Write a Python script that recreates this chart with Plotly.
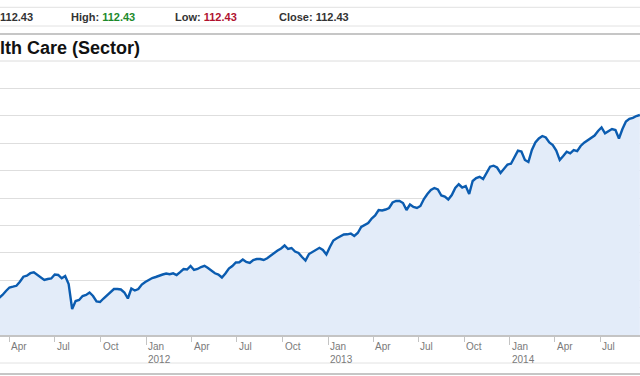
import pandas as pd
import plotly.graph_objects as go

# ---------------- data ----------------
week_start = "2011-03-11"
values = [
    75.83, 76.43, 77.23, 77.93, 78.09, 78.27, 79.07, 80.09, 80.29, 80.79,
    80.97, 80.43, 79.83, 79.43, 79.63, 79.73, 80.53, 80.43, 79.77, 80.23,
    78.63, 73.63, 75.23, 75.43, 76.23, 76.43, 76.93, 76.23, 75.13, 75.03,
    75.73, 76.43, 77.03, 77.63, 77.63, 77.53, 76.93, 75.73, 77.73, 77.33,
    77.63, 78.53, 79.03, 79.43, 79.83, 80.03, 80.33, 80.53, 80.73, 80.59,
    80.77, 80.43, 80.99, 81.63, 81.53, 82.23, 81.43, 81.63, 82.03, 82.27,
    81.83, 81.23, 80.77, 80.53, 79.93, 80.73, 81.73, 82.23, 82.93, 82.97,
    83.53, 83.03, 82.83, 83.43, 83.63, 83.63, 83.43, 83.79, 84.33, 84.89,
    85.33, 85.73, 86.33, 85.63, 85.83, 85.13, 84.83, 84.03, 83.33, 84.63,
    85.03, 85.37, 85.87, 85.43, 84.53, 86.03, 87.33, 87.77, 88.23, 88.53,
    88.57, 88.73, 88.23, 88.83, 90.03, 90.49, 90.83, 91.73, 92.33, 93.43,
    93.33, 93.53, 93.83, 94.93, 95.23, 95.23, 94.83, 93.43, 94.53, 94.03,
    93.83, 94.23, 95.63, 96.63, 97.43, 97.83, 97.53, 96.33, 96.13, 95.53,
    96.43, 97.83, 98.57, 97.93, 98.23, 96.63, 99.23, 99.83, 100.07, 99.63,
    100.83, 102.09, 102.29, 101.93, 100.83, 101.73, 102.53, 102.69, 104.13, 105.29,
    105.13, 103.43, 103.03, 105.43, 106.93, 107.73, 108.23, 107.93, 106.93, 106.43,
    105.33, 103.43, 104.23, 105.09, 104.77, 105.39, 105.19, 106.23, 106.89, 107.33,
    107.73, 108.33, 109.23, 109.93, 108.77, 109.23, 109.63, 109.43, 107.73, 109.63,
    111.13, 111.67, 111.87, 112.23, 112.43,
]
dates = pd.date_range(week_start, periods=len(values), freq="7D")

tick_dates = ["2011-04-01", "2011-07-01", "2011-10-01", "2012-01-01",
              "2012-04-01", "2012-07-01", "2012-10-01", "2013-01-01",
              "2013-04-01", "2013-07-01", "2013-10-01", "2014-01-01",
              "2014-04-01", "2014-07-01"]
tick_labels = ["Apr", "Jul", "Oct", "Jan<br>2012",
               "Apr", "Jul", "Oct", "Jan<br>2013",
               "Apr", "Jul", "Oct", "Jan<br>2014",
               "Apr", "Jul"]
year_ticks = ["2012-01-01", "2013-01-01", "2014-01-01"]

title_text = "lth Care (Sector)"
open_value = 112.43
high_value = 112.43
low_value = 112.43
close_value = 112.43

# ---------------- layout helpers ----------------
W, H = 640, 376
PT, PB = 61, 335          # plot area top / bottom in px


def py(p):
    return (PB - p) / (PB - PT)


def px(p):
    return p / W


FONT = "Arial, Liberation Sans, sans-serif"

fig = go.Figure()
fig.add_trace(go.Scatter(
    x=dates, y=values, mode="lines",
    line=dict(color="#0b5cb0", width=2.4),
    fill="tozeroy", fillcolor="#e3ecf9",
    hoverinfo="x+y", showlegend=False,
))

annotations = []
# header quote row
annotations.append(dict(x=px(0), y=py(17), xref="paper", yref="paper",
                        xanchor="left", yanchor="middle", showarrow=False,
                        xshift=-2,
                        text=f"<b>{open_value:.2f}</b>",
                        font=dict(family=FONT, size=11, color="#333333")))
for lab, val, col, x0 in [("High:", high_value, "#1d8a2c", 70.7),
                          ("Low:", low_value, "#b0122f", 175.0),
                          ("Close:", close_value, "#333333", 279.3)]:
    annotations.append(dict(
        x=px(x0), y=py(17), xref="paper", yref="paper",
        xanchor="left", yanchor="middle", showarrow=False, xshift=-2,
        text=f"<b>{lab} <span style='color:{col}'>{val:.2f}</span></b>",
        font=dict(family=FONT, size=11, color="#333333")))
# title
annotations.append(dict(x=px(0), y=py(48), xref="paper", yref="paper",
                        xanchor="left", yanchor="middle", showarrow=False,
                        xshift=-2,
                        text=f"<b>{title_text}</b>",
                        font=dict(family=FONT, size=18, color="#111111")))
# x tick labels (left-aligned right of each tick)
for d, lab in zip(tick_dates, tick_labels):
    annotations.append(dict(x=d, y=0, xref="x", yref="paper",
                            xanchor="left", yanchor="top", align="left",
                            xshift=0, yshift=-4, showarrow=False, text=lab,
                            font=dict(family=FONT, size=10, color="#7a7a7a")))

shapes = []
for p, w, c in [(7.3, 1, "#e2e2e2"), (26, 1, "#e2e2e2"), (34, 2, "#c6c6c6"),
                (61, 1, "#dcdcdc"), (363, 1, "#e2e2e2"), (374, 2, "#c6c6c6")]:
    shapes.append(dict(type="line", xref="paper", yref="paper",
                       x0=0, x1=1, y0=py(p), y1=py(p),
                       line=dict(color=c, width=w), layer="above"))

fig.update_layout(
    width=W, height=H,
    margin=dict(l=0, r=0, t=PT, b=H - PB, pad=0),
    paper_bgcolor="white", plot_bgcolor="white",
    annotations=annotations, shapes=shapes,
    showlegend=False,
    xaxis=dict(
        type="date",
        range=["2011-03-13", "2014-09-19 07:12"],
        showgrid=False, zeroline=False,
        showline=True, linecolor="#c4c4c4", linewidth=2,
        tickmode="array", tickvals=year_ticks,
        ticks="outside", ticklen=8, tickcolor="#c4c4c4", tickwidth=1,
        showticklabels=False,
        minor=dict(tickmode="array", tickvals=tick_dates, ticks="outside",
                   ticklen=5, tickcolor="#c4c4c4", tickwidth=1, showgrid=False),
        fixedrange=True,
    ),
    yaxis=dict(
        range=[68.43, 123.23], tick0=68.43, dtick=5.48,
        showgrid=True, gridcolor="#dedede", gridwidth=1,
        zeroline=False, showline=False, showticklabels=False, ticks="",
        fixedrange=True,
    ),
)

fig.write_html(
    "out.html",
    config={"displayModeBar": False},
    post_script="document.body.style.margin='0';document.body.style.overflow='hidden';",
)
